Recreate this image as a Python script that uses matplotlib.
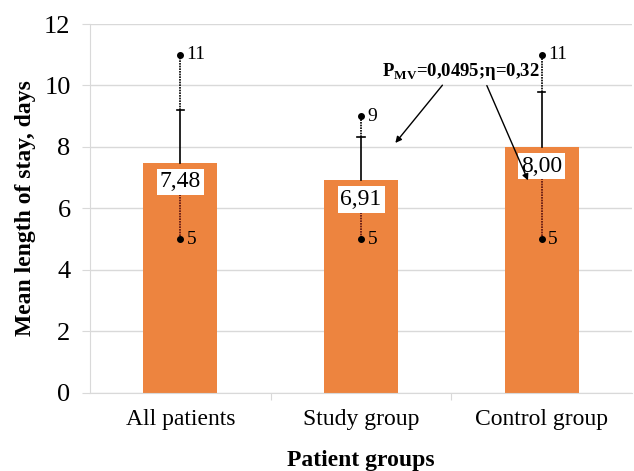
import matplotlib

matplotlib.use("Agg")
import matplotlib.pyplot as plt
import numpy as np

plt.rcParams["font.family"] = ["Liberation Serif", "DejaVu Serif"]

groups = ["All patients", "Study group", "Control group"]
means = [7.48, 6.91, 8.00]
sd_upper = [9.2, 8.33, 9.8]
mins = [5, 5, 5]
maxs = [11, 9, 11]
labels = ["7,48", "6,91", "8,00"]
annotation = r"P$_{\mathregular{MV}}$=0,0495;η=0,32"

BAR = "#ED843F"

fig = plt.figure(figsize=(6.34, 4.71), dpi=100)
ax = fig.add_axes([0.142, 0.166, 0.855, 0.783])

x = np.arange(len(groups))
ax.bar(x, means, width=0.41, color=BAR, zorder=2)

for xi, m, sd, lo, hi, lab in zip(x, means, sd_upper, mins, maxs, labels):
    # solid whisker mean -> mean+SD with cap
    ax.plot([xi, xi], [m, sd], color="black", lw=1.2, zorder=3)
    ax.plot([xi - 0.02, xi + 0.02], [sd, sd], color="black", lw=1.2, zorder=3)
    # dotted to max and from label down to min
    ax.plot([xi, xi], [sd, hi], color="black", lw=1.2, ls=(0, (1, 0.6)), zorder=3)
    ax.plot([xi, xi], [m - 0.6, lo], color="#5a1010", lw=1.2, ls=(0, (1, 0.6)), zorder=3)
    ax.plot([xi, xi], [lo, hi], ls="none", marker="o", ms=4, color="black", zorder=4)
    ax.text(xi + 0.035, hi, str(hi), fontsize=14, ha="left", va="center", zorder=5)
    ax.text(xi + 0.035, lo, str(lo), fontsize=14, ha="left", va="center", zorder=5)
    ax.text(xi, m - 0.62, lab, fontsize=17, ha="center", va="center", zorder=5,
            bbox=dict(boxstyle="square,pad=0.12", fc="white", ec="none"))

ax.text(1.55, 10.45, annotation, fontsize=13.5, fontweight="bold", ha="center", va="center", zorder=6)
ax.annotate("", xy=(1.18, 8.06), xytext=(1.46, 10.08),
            arrowprops=dict(arrowstyle="-|>", color="black", lw=1.0, mutation_scale=9), zorder=6)
ax.annotate("", xy=(1.93, 6.83), xytext=(1.69, 10.08),
            arrowprops=dict(arrowstyle="-|>", color="black", lw=1.0, mutation_scale=9), zorder=6)

ax.set_xlim(-0.5, 2.5)
ax.set_ylim(0, 12)
ax.set_yticks(range(0, 13, 2))
ax.yaxis.grid(True, color="#d9d9d9", lw=1.0, zorder=0)
ax.set_axisbelow(True)
ax.set_xticks([0.5, 1.5])
ax.set_xticklabels([])
ax.set_xticks(x, minor=True)
ax.set_xticklabels(groups, minor=True, fontsize=17)
ax.tick_params(axis="x", which="minor", length=0, pad=12)
ax.tick_params(axis="x", which="major", length=5, color="#d9d9d9", direction="out")
ax.tick_params(axis="y", length=6, color="#d9d9d9", labelsize=19, pad=8)

for side in ["top", "right"]:
    ax.spines[side].set_visible(False)
ax.spines["left"].set_color("#d9d9d9")
ax.spines["bottom"].set_color("#d9d9d9")

ax.set_ylabel("Mean length of stay, days", fontsize=17, fontweight="bold", labelpad=6)
ax.set_xlabel("Patient groups", fontsize=17, fontweight="bold", labelpad=14)

fig.savefig("out.png", dpi=100)
